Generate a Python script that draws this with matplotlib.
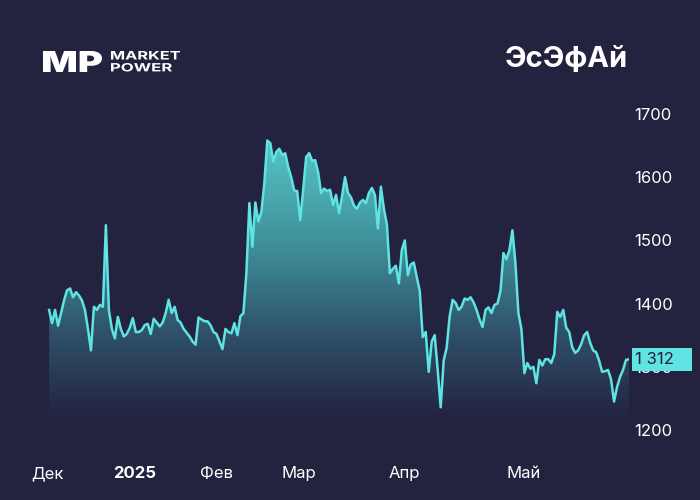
import numpy as np
import matplotlib
matplotlib.use("Agg")
import matplotlib.pyplot as plt
from matplotlib.colors import LinearSegmentedColormap
from matplotlib.patches import PathPatch, Rectangle
from matplotlib.textpath import TextPath
from matplotlib.font_manager import FontProperties
from matplotlib.transforms import Affine2D, IdentityTransform, blended_transform_factory

# SFI share price, one value per sample (sessions, Dec 2024 - May 2025)
price = [
    1390, 1369, 1390, 1365, 1385, 1405, 1421, 1424, 1410, 1418,
    1413, 1405, 1390, 1360, 1326, 1395, 1390, 1398, 1395, 1524,
    1390, 1360, 1345, 1379, 1360, 1348, 1352, 1362, 1377, 1355,
    1355, 1358, 1366, 1368, 1352, 1376, 1370, 1364, 1370, 1385,
    1406, 1385, 1395, 1374, 1370, 1360, 1354, 1348, 1340, 1335,
    1378, 1375, 1372, 1372, 1366, 1355, 1352, 1340, 1328, 1360,
    1355, 1353, 1369, 1350, 1380, 1385, 1448, 1559, 1490, 1560,
    1530, 1545, 1590, 1658, 1654, 1625, 1640, 1645, 1635, 1638,
    1616, 1600, 1579, 1578, 1532, 1580, 1632, 1638, 1626, 1627,
    1608, 1575, 1582, 1578, 1580, 1556, 1572, 1543, 1570, 1600,
    1575, 1568, 1555, 1550, 1560, 1564, 1559, 1575, 1583, 1572,
    1519, 1585, 1550, 1525, 1448, 1455, 1460, 1432, 1485, 1500,
    1445, 1462, 1465, 1442, 1420, 1347, 1355, 1292, 1340, 1350,
    1295, 1236, 1310, 1330, 1380, 1406, 1401, 1390, 1395, 1408,
    1406, 1410, 1402, 1390, 1375, 1363, 1390, 1394, 1385, 1398,
    1400, 1420, 1480, 1470, 1485, 1516, 1464, 1385, 1360, 1290,
    1306, 1297, 1300, 1274, 1311, 1302, 1312, 1312, 1306, 1320,
    1387, 1379, 1390, 1362, 1355, 1331, 1322, 1326, 1336, 1350,
    1355, 1338, 1326, 1323, 1310, 1292, 1293, 1295, 1280, 1245,
    1268, 1284, 1295, 1311, 1312,
]
last_label = "1 312"

month_labels = ["Дек", "2025", "Фев", "Мар", "Апр", "Май"]
month_pos = [-0.7, 28.7, 56, 83.7, 118.7, 158.7]
y_ticks = [1200, 1300, 1400, 1500, 1600, 1700]

bg = "#23223f"
line_c = "#5fe3e3"

plt.rcParams["font.family"] = ["Inter", "DejaVu Sans"]

fig = plt.figure(figsize=(7, 5), dpi=100, facecolor=bg)
ax = fig.add_axes([47 / 700, 70 / 500, 582 / 700, 316 / 500])
ax.set_facecolor(bg)

x = np.arange(len(price))
base = 1215
top = 1665

# gradient fill under the line
poly = ax.fill_between(x, price, base, facecolor="none", edgecolor="none")
cmap = LinearSegmentedColormap.from_list(
    "g", [(0, bg), (0.3, "#2e5068"), (0.6, "#3e8c98"), (1, "#56c8c8")])
grad = np.linspace(0, 1, 256).reshape(-1, 1)
im = ax.imshow(grad, extent=[x[0], x[-1], base, top], origin="lower",
               aspect="auto", cmap=cmap, zorder=1)
im.set_clip_path(poly.get_paths()[0], transform=ax.transData)

ax.plot(x, price, color=line_c, lw=1.8, zorder=3)

ax.set_xlim(x[0], x[-1])
ax.set_ylim(1200, 1700)
for s in ax.spines.values():
    s.set_visible(False)

ax.set_xticks(month_pos)
ax.set_xticklabels(month_labels)
ax.tick_params(axis="x", length=0, pad=26, labelsize=12, labelcolor="white")
for lbl in ax.get_xticklabels():
    if lbl.get_text() == "2025":
        lbl.set_fontweight("bold")

ax.yaxis.tick_right()
ax.set_yticks(y_ticks)
ax.tick_params(axis="y", length=0, pad=4, labelsize=12, labelcolor="white")

# last price tag (covers the 1300 label like in the original)
tr = blended_transform_factory(ax.transAxes, ax.transData)
box_h = 23 / 316 * 500
ax.add_patch(Rectangle((1 + 3 / 582, price[-1] - box_h / 2), 60 / 582, box_h,
                       transform=tr, facecolor=line_c, edgecolor="none",
                       clip_on=False, zorder=5))
ax.text(1 + 6 / 582, price[-1], last_label, transform=tr, ha="left",
        va="center", fontsize=12, color=bg, zorder=6, clip_on=False)

# title
fig.text(628 / 700, 1 - 60 / 500, "ЭсЭфАй", ha="right", va="center",
         fontsize=21, fontweight="bold", color="white")


# logo: stretched text fitted into pixel boxes (left, top, right, bottom)
def logo_text(s, box, weight):
    tp = TextPath((0, 0), s, size=10, prop=FontProperties(family="Inter", weight=weight))
    ext = tp.get_extents()
    x0, y0, x1, y1 = box
    t = (Affine2D().translate(-ext.x0, -ext.y0)
         .scale((x1 - x0) / ext.width, (y1 - y0) / ext.height)
         .translate(x0, 500 - y1))
    fig.patches.append(PathPatch(tp, transform=t + IdentityTransform(),
                                 facecolor="white", edgecolor="none"))


logo_text("MP", (43, 51, 102, 72), "black")
logo_text("MARKET", (111, 51, 180, 59.5), "bold")
logo_text("POWER", (111, 63, 172, 71.5), "bold")

fig.savefig("out.png", dpi=100, facecolor=bg)
